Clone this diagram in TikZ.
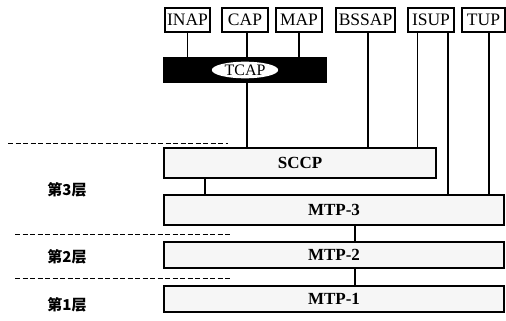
\documentclass[tikz,border=0pt]{standalone}
\usepackage{fontspec}
\setmainfont{Liberation Serif}
\newfontfamily\cjk{Noto Sans CJK SC}
\usetikzlibrary{shapes.geometric}
\begin{document}
\begin{tikzpicture}[x=1pt, y=-1pt, every node/.style={inner sep=0pt}]
	\tikzstyle{proto} = [rectangle,draw,line width=1.4pt,minimum height=24pt,font=\fontsize{17.5}{17.5}\selectfont]
	\tikzstyle{layer} = [rectangle,draw,line width=1.6pt,fill=gray!7,minimum width=340pt,minimum height=26pt,font=\fontsize{17}{17}\selectfont\bfseries]
	\tikzstyle{link} = [line width=1.6pt]
	\tikzstyle{sep} = [line width=1pt,dash pattern=on 5pt off 2.5pt]
	\useasboundingbox (0,0) rectangle (506,321);
	\node[proto,minimum width=45pt](inap)at(187.5,20){INAP};
	\node[proto,minimum width=46pt](cap)at(245,20){CAP};
	\node[proto,minimum width=46pt](map)at(299,20){MAP};
	\node[proto,minimum width=59pt](bssap)at(365.5,20){BSSAP};
	\node[proto,minimum width=46pt](isup)at(431,20){ISUP};
	\node[proto,minimum width=43pt](tup)at(483.5,20){TUP};
	\node[rectangle,fill=black,minimum width=164pt,minimum height=26pt](tcap)at(245,70){};
	\node[ellipse,fill=white,inner xsep=3pt,inner ysep=0.5pt,font=\fontsize{16}{16}\selectfont](tcapname)at(tcap){TCAP};
	\node[layer,minimum width=272pt,minimum height=30pt](sccp)at(300,163){SCCP};
	\node[layer,minimum height=30pt](mtp3)at(334,210){MTP-3};
	\node[layer](mtp2)at(334,255){MTP-2};
	\node[layer](mtp1)at(334,299){MTP-1};
	\node[font=\cjk\fontsize{15}{15}\selectfont\bfseries](l3)at(67,190){第3层};
	\node[font=\cjk\fontsize{15}{15}\selectfont\bfseries](l2)at(67,257){第2层};
	\node[font=\cjk\fontsize{15}{15}\selectfont\bfseries](l1)at(67,305){第1层};
	\coordinate(s3a)at(8,143); \coordinate(s3b)at(228,143);
	\coordinate(s2a)at(15,234); \coordinate(s2b)at(230,234);
	\coordinate(s1a)at(15,278); \coordinate(s1b)at(230,278);
	\draw[sep] (s3a) -- (s3b);
	\draw[sep] (s2a) -- (s2b);
	\draw[sep] (s1a) -- (s1b);
	\draw[link] (inap.south) -- (inap.south |- tcap.north);
	\draw[link] ([xshift=2pt]cap.south) -- ([xshift=2pt]cap.south |- tcap.north);
	\draw[link] (map.south) -- (map.south |- tcap.north);
	\draw[link] ([xshift=2pt]tcap.south) -- ([xshift=2pt]tcap.south |- sccp.north);
	\draw[link] ([xshift=2.5pt]bssap.south) -- ([xshift=2.5pt]bssap.south |- sccp.north);
	\draw[link] ([xshift=10pt]isup.south west) -- ([xshift=10pt]isup.south west |- sccp.north);
	\draw[link] ([xshift=-7pt]isup.south east) -- ([xshift=-7pt]isup.south east |- mtp3.north);
	\draw[link] ([xshift=5.5pt]tup.south) -- ([xshift=5.5pt]tup.south |- mtp3.north);
	\draw[link] ([xshift=42pt]sccp.south west) -- ([xshift=42pt]sccp.south west |- mtp3.north);
	\draw[link] ([xshift=21pt]mtp3.south) -- ([xshift=21pt]mtp3.south |- mtp2.north);
	\draw[link] ([xshift=21pt]mtp2.south) -- ([xshift=21pt]mtp2.south |- mtp1.north);
\end{tikzpicture}
\end{document}
